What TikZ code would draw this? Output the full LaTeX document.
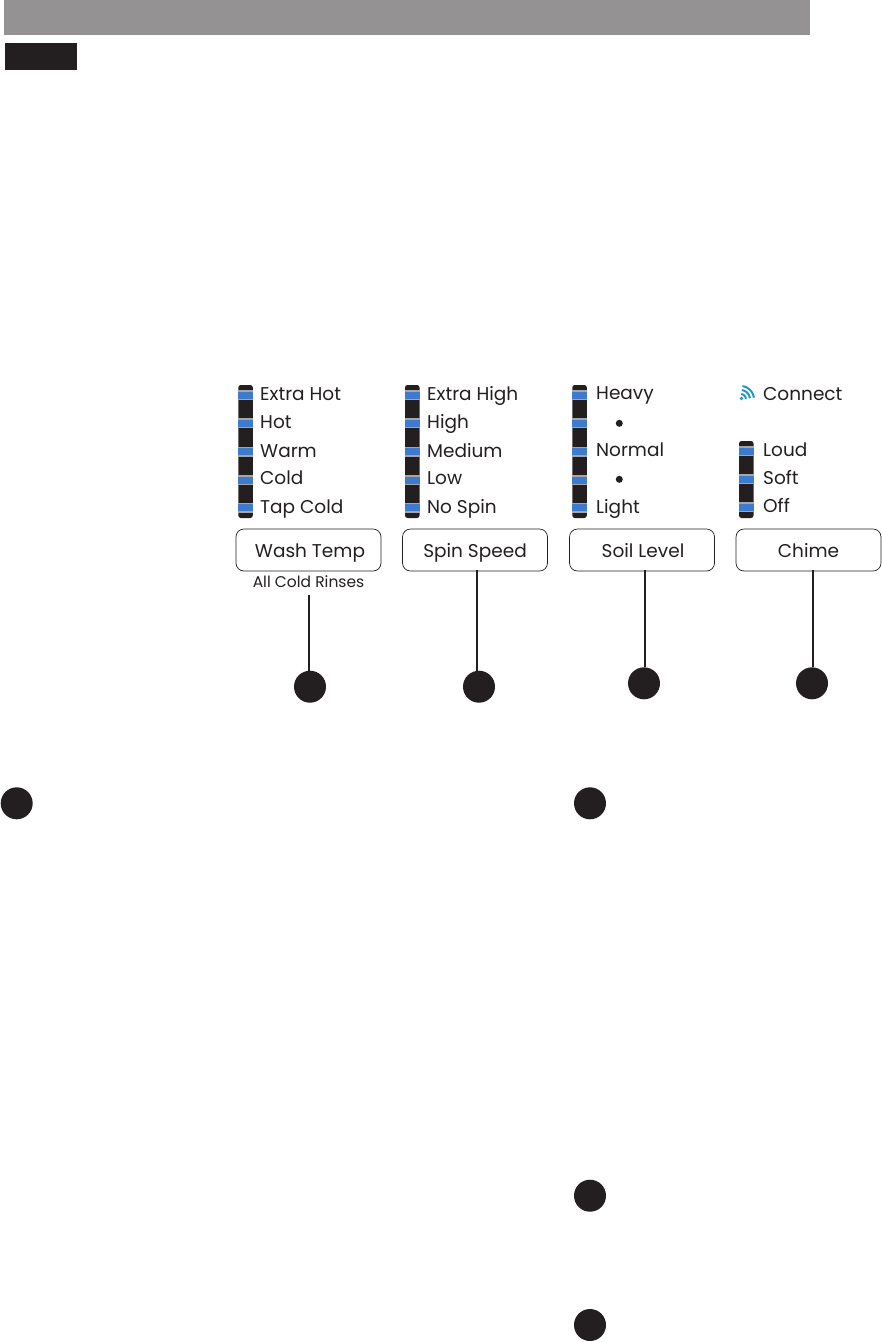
\documentclass[tikz,border=0pt]{standalone}
\usepackage{fontspec}
\setmainfont{Poppins}
\definecolor{headgray}{RGB}{148,146,146}
\definecolor{barblack}{RGB}{35,31,32}
\definecolor{ledblue}{RGB}{62,122,205}
\definecolor{wifiblue}{RGB}{30,150,210}
\begin{document}
\begin{tikzpicture}[font=\fontsize{18.5}{21}\selectfont, x=1pt, y=-1pt,
          bar/.style={fill=barblack, rounded corners=2.5pt},
          ledrim/.style={fill=gray!70},
          led/.style={fill=ledblue},
          setting/.style={anchor=base west, inner sep=0pt, text=barblack},
          btn/.style={draw=barblack, fill=white, rounded corners=8pt, line width=0.7pt, minimum width=145pt, minimum height=42pt, inner sep=0pt},
          btntext/.style={anchor=base, inner sep=0pt, text=barblack},
          callout/.style={circle, fill=barblack, minimum size=32pt, inner sep=0pt},
          leader/.style={draw=barblack, line width=1.8pt},
          tick/.style={circle, fill=barblack, inner sep=0pt, minimum size=7pt}]
        \useasboundingbox (0,0) rectangle (882,1342);
        \fill[headgray] (4,0) rectangle (810,35);
        \fill[barblack] (5,43) rectangle (77,70);
        % bars
        \foreach \x in {238.3,405,572.3} {
          \fill[bar] (\x,385) rectangle ++(14.5,133);
          \foreach \y in {395,423,451.5,480,507.5} {
            \fill[ledrim] (\x,\y-5) rectangle ++(14.5,10);
            \fill[led] (\x,\y-3.5) rectangle ++(14.5,7);
          }
        }
        \fill[bar] (739,441) rectangle ++(14.5,77);
        \foreach \y in {451,479,507} {
          \fill[ledrim] (739,\y-5) rectangle ++(14.5,10);
          \fill[led] (739,\y-3.5) rectangle ++(14.5,7);
        }
        % labels
        \foreach \y/\t in {400/Extra Hot,428.5/Hot,457/Warm,484/Cold,513/Tap Cold}
          \node[setting] (wash\y) at (260,\y) {\t};
        \foreach \y/\t in {400/Extra High,428.5/High,457/Medium,484/Low,513/No Spin}
          \node[setting] (spin\y) at (427,\y) {\t};
        \foreach \y/\t in {399/Heavy,456.5/Normal,513/Light}
          \node[setting] (soil\y) at (596,\y) {\t};
        \foreach \y/\t in {400/Connect,456/Loud,484/Soft,512/Off}
          \node[setting] (chime\y) at (763,\y) {\t};
        \node[tick] (dotone) at (619.3,423.3) {};
        \node[tick] (dottwo) at (619.3,479.3) {};
        % wifi mark
        \fill[wifiblue] (741.5,398.5) circle (1.8pt);
        \foreach \r in {5.5,9.5,13.5}
          \draw[wifiblue, line width=2pt] plot[domain=-82:-8, samples=12] ({740.5+\r*cos(\x)},{399.5+\r*sin(\x)});
        % buttons
        \node[btn] (washbtn) at (308.5,550) {};
        \node[btn] (spinbtn) at (475,550) {};
        \node[btn] (soilbtn) at (642,550) {};
        \node[btn] (chimebtn) at (808.5,550) {};
        \node[btntext] (washname) at (310,557) {Wash Temp};
        \node[btntext] (spinname) at (475,557) {Spin Speed};
        \node[btntext] (soilname) at (643,557) {Soil Level};
        \node[btntext] (chimename) at (808.5,557) {Chime};
        \node[btntext, font=\fontsize{15.5}{17}\selectfont] (rinse) at (308.5,587) {All Cold Rinses};
        % callouts
        \node[callout] (washdot) at (310,686.7) {};
        \node[callout] (spindot) at (479,686.7) {};
        \node[callout] (soildot) at (644,683.3) {};
        \node[callout] (chimedot) at (812,683.3) {};
        \node[callout] (noteone) at (16.7,803.3) {};
        \node[callout] (notetwo) at (590,803.3) {};
        \node[callout] (notethree) at (590,1195.7) {};
        \node[callout] (notefour) at (590,1325) {};
        \coordinate (washtop) at (309.3,595);
        \coordinate (spintop) at (476.7,570);
        \coordinate (soiltop) at (645,570);
        \coordinate (chimetop) at (812.7,570);
        \draw[leader] (washtop) -- (washtop |- washdot.north);
        \draw[leader] (spintop) -- (spintop |- spindot.north);
        \draw[leader] (soiltop) -- (soiltop |- soildot.north);
        \draw[leader] (chimetop) -- (chimetop |- chimedot.north);
      \end{tikzpicture}
\end{document}
